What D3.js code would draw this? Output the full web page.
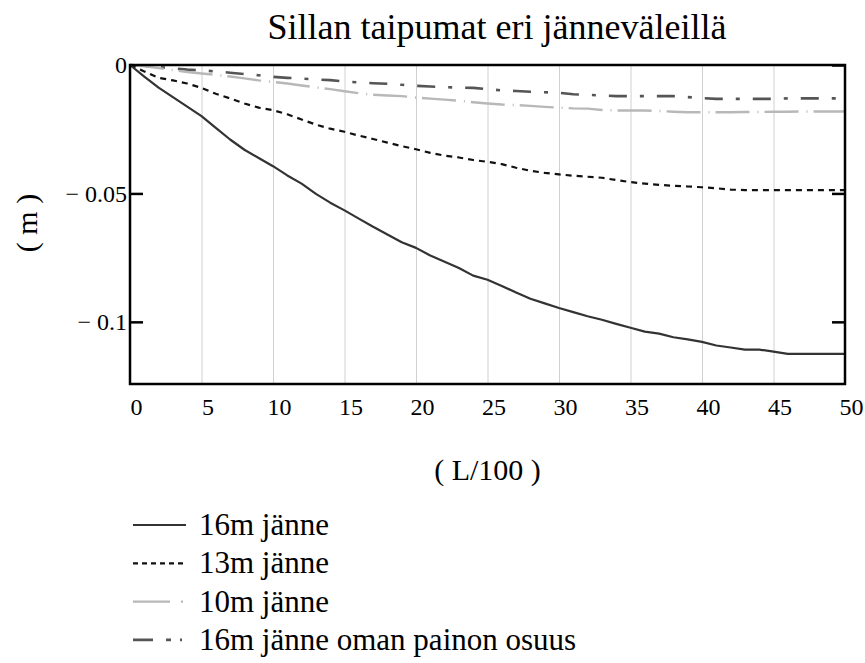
<!DOCTYPE html>
<html>
<head>
<meta charset="utf-8">
<script src="https://cdn.jsdelivr.net/npm/d3@7/dist/d3.min.js"></script>
<style>
  html, body { margin: 0; padding: 0; background: #fff; }
  svg { display: block; font-family: "Liberation Serif", "Times New Roman", serif; }
</style>
</head>
<body>
<svg id="chart" width="865" height="663"></svg>
<script>
// Position along the span, L/100
const xValues = d3.range(0, 51);

// Deflection (m) for each span, sampled at xValues
const span16 = [0, -0.0045, -0.0088, -0.0125, -0.0162, -0.0199, -0.0245, -0.0290, -0.0330, -0.0362,
  -0.0394, -0.0430, -0.0462, -0.0502, -0.0536, -0.0566, -0.0598, -0.0630, -0.0660, -0.0690,
  -0.0712, -0.0742, -0.0766, -0.0790, -0.0820, -0.0836, -0.0860, -0.0886, -0.0910, -0.0928,
  -0.0946, -0.0962, -0.0978, -0.0992, -0.1008, -0.1023, -0.1038, -0.1046, -0.1060, -0.1068,
  -0.1078, -0.1092, -0.1100, -0.1108, -0.1108, -0.1116, -0.1125, -0.1125, -0.1125, -0.1125, -0.1125];

const span13 = [0, -0.0025, -0.0050, -0.0060, -0.0072, -0.0089, -0.0112, -0.0130, -0.0150, -0.0166,
  -0.0176, -0.0192, -0.0212, -0.0232, -0.0248, -0.0260, -0.0275, -0.0288, -0.0302, -0.0316,
  -0.0328, -0.0342, -0.0353, -0.0360, -0.0370, -0.0377, -0.0386, -0.0400, -0.0412, -0.0420,
  -0.0426, -0.0431, -0.0435, -0.0439, -0.0448, -0.0456, -0.0462, -0.0467, -0.0470, -0.0473,
  -0.0476, -0.0480, -0.0485, -0.0487, -0.0487, -0.0487, -0.0487, -0.0487, -0.0487, -0.0487, -0.0487];

const span10 = [0, -0.0005, -0.0012, -0.0020, -0.0027, -0.0033, -0.0038, -0.0045, -0.0052, -0.0060,
  -0.0066, -0.0072, -0.0080, -0.0087, -0.0094, -0.0102, -0.0110, -0.0116, -0.0119, -0.0121,
  -0.0127, -0.0131, -0.0135, -0.0139, -0.0145, -0.0150, -0.0154, -0.0156, -0.0159, -0.0163,
  -0.0166, -0.0169, -0.0170, -0.0175, -0.0177, -0.0177, -0.0177, -0.0179, -0.0182, -0.0184,
  -0.0184, -0.0184, -0.0184, -0.0183, -0.0183, -0.0182, -0.0182, -0.0181, -0.0181, -0.0181, -0.0181];

const span16Self = [0, -0.0003, -0.0008, -0.0013, -0.0018, -0.0021, -0.0025, -0.0030, -0.0035, -0.0040,
  -0.0046, -0.0050, -0.0053, -0.0056, -0.0059, -0.0064, -0.0068, -0.0071, -0.0073, -0.0077,
  -0.0081, -0.0084, -0.0086, -0.0088, -0.0089, -0.0094, -0.0099, -0.0101, -0.0104, -0.0106,
  -0.0108, -0.0114, -0.0116, -0.0119, -0.0121, -0.0121, -0.0121, -0.0121, -0.0121, -0.0125,
  -0.0129, -0.0132, -0.0132, -0.0132, -0.0132, -0.0132, -0.0130, -0.0130, -0.0130, -0.0130, -0.0130];

const seriesNames = ["16m jänne", "13m jänne", "10m jänne", "16m jänne oman painon osuus"];
const xTicks = [0, 5, 10, 15, 20, 25, 30, 35, 40, 45, 50];
const yTicks = [0, -0.05, -0.1];

const title = "Sillan taipumat eri jänneväleillä";
const xTitle = "( L/100 )";
const yTitle = "( m )";

// Line styles per series (plot dashes and legend sample dashes)
const styles = [
  { color: "#333333", width: 2.2, dash: null, legendDash: null },
  { color: "#111111", width: 2.2, dash: "6,5", legendDash: "5,4" },
  { color: "#b8b8b8", width: 2.4, dash: "34,8,1,6", legendDash: "37,11,2,60" },
  { color: "#555555", width: 2.6, dash: "18,13,4,13", legendDash: "20,13,5,9,2,60" }
];

const svg = d3.select("#chart");
const plot = { left: 130, right: 845, top: 65, bottom: 384 };

const x = d3.scaleLinear().domain([0, 50]).range([plot.left, plot.right]);
const y = d3.scaleLinear().domain([-0.1242, 0]).range([plot.bottom, plot.top]);

// Title
svg.append("text")
  .attr("x", 497).attr("y", 39)
  .attr("text-anchor", "middle")
  .attr("font-size", 36)
  .text(title);

// Vertical grid lines
svg.append("g")
  .attr("transform", `translate(0,${plot.bottom})`)
  .call(d3.axisBottom(x).tickValues(xTicks.slice(1, -1)).tickSize(-(plot.bottom - plot.top)).tickFormat(""))
  .call(g => g.select(".domain").remove())
  .call(g => g.selectAll("line").attr("stroke", "#d0d0d0").attr("stroke-width", 1));

// X tick labels
svg.append("g")
  .attr("transform", `translate(0,${plot.bottom})`)
  .call(d3.axisBottom(x).tickValues(xTicks).tickSize(0).tickPadding(14).tickFormat(d3.format("d")))
  .call(g => g.select(".domain").remove())
  .call(g => g.selectAll("text")
    .attr("font-family", "Liberation Serif")
    .attr("font-size", 24)
    .attr("fill", "#000")
    .attr("dx", 6));

// Y axis: inward ticks with labels
const fmtY = d => d === 0 ? "0" : "\u2212 " + d3.format("")(Math.abs(d));
svg.append("g")
  .attr("transform", `translate(${plot.left},0)`)
  .call(d3.axisLeft(y).tickValues(yTicks).tickSize(-13).tickPadding(15).tickFormat(fmtY))
  .call(g => g.select(".domain").remove())
  .call(g => g.selectAll("line").attr("stroke", "#000").attr("stroke-width", 2.5))
  .call(g => g.selectAll("text")
    .attr("font-family", "Liberation Serif")
    .attr("font-size", 24)
    .attr("fill", "#000")
    .attr("x", -3)
    .attr("dy", "0.32em"));

// Right-side inward ticks
svg.append("g")
  .attr("transform", `translate(${plot.right},0)`)
  .call(d3.axisRight(y).tickValues(yTicks).tickSize(-13).tickFormat(""))
  .call(g => g.select(".domain").remove())
  .call(g => g.selectAll("line").attr("stroke", "#000").attr("stroke-width", 2.5));

// Curves
const allSeries = [span16, span13, span10, span16Self];
const line = d3.line().x((d, i) => x(xValues[i])).y(d => y(d));
const curves = svg.append("g");
// draw back to front so the solid curve sits on top
[3, 2, 1, 0].forEach(k => {
  curves.append("path")
    .datum(allSeries[k])
    .attr("d", line)
    .attr("fill", "none")
    .attr("stroke", styles[k].color)
    .attr("stroke-width", styles[k].width)
    .attr("stroke-dasharray", styles[k].dash)
    .attr("stroke-linejoin", "round");
});

// Frame
svg.append("rect")
  .attr("x", plot.left).attr("y", plot.top)
  .attr("width", plot.right - plot.left).attr("height", plot.bottom - plot.top)
  .attr("fill", "none").attr("stroke", "#000").attr("stroke-width", 2.5);

// Axis titles
svg.append("text")
  .attr("x", (plot.left + plot.right) / 2).attr("y", 480)
  .attr("text-anchor", "middle")
  .attr("font-size", 30)
  .text(xTitle);

svg.append("text")
  .attr("transform", "translate(37,223) rotate(-90)")
  .attr("text-anchor", "middle")
  .attr("font-size", 30)
  .text(yTitle);

// Legend
const legend = svg.append("g");
seriesNames.forEach((name, i) => {
  const base = 535 + i * 38.3;
  const cy = base - 10;
  legend.append("line")
    .attr("x1", 133).attr("x2", 186)
    .attr("y1", cy).attr("y2", cy)
    .attr("stroke", styles[i].color)
    .attr("stroke-width", styles[i].width)
    .attr("stroke-dasharray", styles[i].legendDash);
  legend.append("text")
    .attr("x", 199).attr("y", base)
    .attr("font-size", 31)
    .text(name);
});
</script>
</body>
</html>
